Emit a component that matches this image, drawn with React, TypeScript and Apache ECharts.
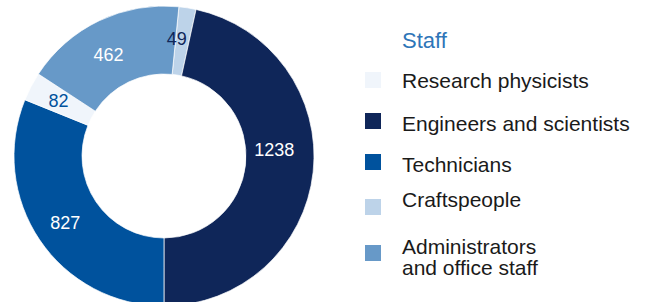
import React, { useEffect, useRef } from "react";
import * as echarts from "echarts";

// Clockwise from the top of the ring
const categories = [
  "Craftspeople",
  "Engineers and scientists",
  "Technicians",
  "Research physicists",
  "Administrators and office staff",
];
const values = [49, 1238, 827, 82, 462];
const colors = ["#bdd3e9", "#0f2659", "#00529d", "#f0f5fb", "#6799c8"];
const labelColors = ["#0f2659", "#ffffff", "#ffffff", "#00529d", "#ffffff"];

// Legend order and displayed text as shown
const legendOrder = [
  "Research physicists",
  "Engineers and scientists",
  "Technicians",
  "Craftspeople",
  "Administrators and office staff",
];
const legendText = [
  "Research physicists",
  "Engineers and scientists",
  "Technicians",
  "Craftspeople",
  "Administrators\nand office staff",
];
const titleText = "Staff";

const FONT = "Liberation Sans, Arial, Helvetica, sans-serif";

export default function App() {
  const ref = useRef<HTMLDivElement>(null);
  useEffect(() => {
    document.body.style.margin = "0";
    if (!ref.current) return;
    const chart = echarts.init(ref.current, null, { renderer: "svg" });

    // marker top and text centre for each legend row
    const markerTops = [72, 113, 154, 199, 245];
    const textCentres = [80.5, 123.5, 164.5, 199.5, 257];

    const legendGraphics: any[] = [];
    legendOrder.forEach((name, i) => {
      const idx = categories.indexOf(name);
      legendGraphics.push({
        type: "rect",
        shape: { x: 365, y: markerTops[i], width: 16, height: 16 },
        style: { fill: colors[idx] },
        silent: true,
      });
      legendGraphics.push({
        type: "text",
        x: 402,
        y: textCentres[i],
        style: {
          text: legendText[i],
          font: `21px ${FONT}`,
          fill: "#1a1a1a",
          verticalAlign: "middle",
          align: "left",
          lineHeight: 21,
        },
        silent: true,
      });
    });

    chart.setOption({
      animation: false,
      title: {
        text: titleText,
        left: 402,
        top: 29,
        padding: 0,
        textStyle: {
          fontFamily: FONT,
          fontSize: 22,
          fontWeight: "normal",
          color: "#2e75b8",
          lineHeight: 22,
        },
      },
      graphic: legendGraphics,
      series: [
        {
          type: "pie",
          center: [164, 156],
          radius: [82, 150],
          startAngle: 84.3,
          clockwise: true,
          avoidLabelOverlap: false,
          itemStyle: { borderColor: "#ffffff", borderWidth: 0.7 },
          label: {
            show: true,
            position: "inside",
            formatter: "{c}",
            fontFamily: FONT,
            fontSize: 18,
          },
          labelLine: { show: false },
          emphasis: { disabled: true },
          data: categories.map((name, i) => {
            const offsets: Record<number, number[]> = {
              0: [-6, 1],
              1: [-8, -19],
              4: [-4, 6],
            };
            return {
              name,
              value: values[i],
              itemStyle: { color: colors[i] },
              label: {
                color: labelColors[i],
                ...(offsets[i] ? { offset: offsets[i] } : {}),
              },
            };
          }),
        },
      ],
    });
    return () => chart.dispose();
  }, []);
  return <div ref={ref} style={{ width: 647, height: 302 }} />;
}
